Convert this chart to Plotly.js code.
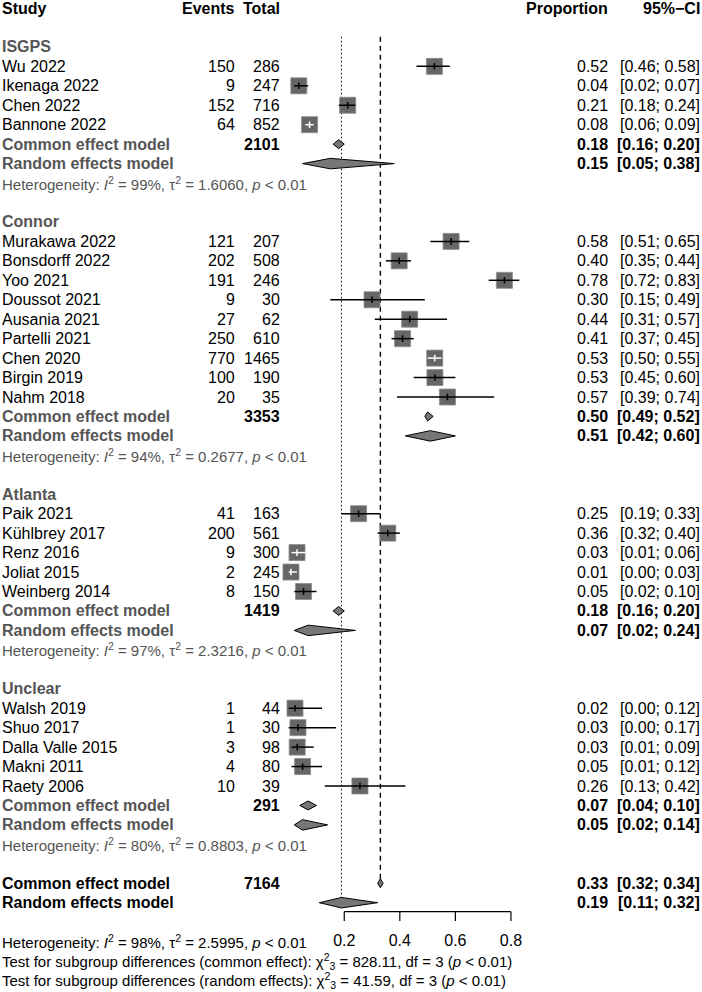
<!DOCTYPE html>
<html>
<head>
<meta charset="utf-8">
<script src="https://cdn.plot.ly/plotly-3.0.1.min.js"></script>
<style>html,body{margin:0;padding:0;background:#fff}</style>
</head>
<body>
<div id="plot" style="width:702px;height:992px"></div>
<script>
// ---- data ----
const groups = ["ISGPS", "Connor", "Atlanta", "Unclear"];
const groupSize = [4, 9, 5, 5];

const studies = ["Wu 2022", "Ikenaga 2022", "Chen 2022", "Bannone 2022",
  "Murakawa 2022", "Bonsdorff 2022", "Yoo 2021", "Doussot 2021", "Ausania 2021",
  "Partelli 2021", "Chen 2020", "Birgin 2019", "Nahm 2018",
  "Paik 2021", "Kühlbrey 2017", "Renz 2016", "Joliat 2015", "Weinberg 2014",
  "Walsh 2019", "Shuo 2017", "Dalla Valle 2015", "Makni 2011", "Raety 2006"];
const events = [150, 9, 152, 64, 121, 202, 191, 9, 27, 250, 770, 100, 20, 41, 200, 9, 2, 8, 1, 1, 3, 4, 10];
const totals = [286, 247, 716, 852, 207, 508, 246, 30, 62, 610, 1465, 190, 35, 163, 561, 300, 245, 150, 44, 30, 98, 80, 39];
const prop = [0.52, 0.04, 0.21, 0.08, 0.58, 0.40, 0.78, 0.30, 0.44, 0.41, 0.53, 0.53, 0.57, 0.25, 0.36, 0.03, 0.01, 0.05, 0.02, 0.03, 0.03, 0.05, 0.26];
const lower = [0.46, 0.02, 0.18, 0.06, 0.51, 0.35, 0.72, 0.15, 0.31, 0.37, 0.50, 0.45, 0.39, 0.19, 0.32, 0.01, 0.00, 0.02, 0.00, 0.00, 0.01, 0.01, 0.13];
const upper = [0.58, 0.07, 0.24, 0.09, 0.65, 0.44, 0.83, 0.49, 0.57, 0.45, 0.55, 0.60, 0.74, 0.33, 0.40, 0.06, 0.03, 0.10, 0.12, 0.17, 0.09, 0.12, 0.42];
// CI drawn in white when it sits inside the square
const ciInside = ["Bannone 2022", "Chen 2020", "Renz 2016", "Joliat 2015"];

const groupTotal = [2101, 3353, 1419, 291];
const commonEst = [0.18, 0.50, 0.18, 0.07];
const commonLow = [0.16, 0.49, 0.16, 0.04];
const commonHigh = [0.20, 0.52, 0.20, 0.10];
const randomEst = [0.15, 0.51, 0.07, 0.05];
const randomLow = [0.05, 0.42, 0.02, 0.02];
const randomHigh = [0.38, 0.60, 0.24, 0.14];
const hetI2 = ["99%", "94%", "97%", "80%"];
const hetTau2 = ["1.6060", "0.2677", "2.3216", "0.8803"];

const overallTotal = 7164;
const overallCommon = [0.33, 0.32, 0.34];
const overallRandom = [0.19, 0.11, 0.32];
const overallI2 = "98%";
const overallTau2 = "2.5995";
const testCommon = "828.11";
const testRandom = "41.59";
const testDf = 3;

const axisTicks = [0.2, 0.4, 0.6, 0.8];

// ---- layout helpers ----
const W = 702, H = 992;
const FONT = "Liberation Sans, Arial, sans-serif";
const GREY = "#555555";
const col = { study: 2, events: 235, total: 280, prop: 608, ci: 700 };

const annotations = [];
function txt(px, row, s, o) {
  o = o || {};
  annotations.push({
    xref: "paper", yref: "y", x: px / W, y: row, text: s,
    showarrow: false, xanchor: o.anchor || "left", yanchor: "middle",
    borderpad: 0, borderwidth: 0,
    font: { family: FONT, size: o.size || 16, color: o.color || "#000" }
  });
}
const f2 = v => v.toFixed(2);
const ciText = (l, u) => "[" + f2(l) + "; " + f2(u) + "]";
const hetText = (i2, t2) => "Heterogeneity: <i>I</i><sup>2</sup> = " + i2 + ", τ<sup>2</sup> = " + t2 + ", <i>p</i> &lt; 0.01";

// header
txt(col.study, 0, "<b>Study</b>");
txt(col.events, 0, "<b>Events</b>", { anchor: "right" });
txt(col.total, 0, "<b>Total</b>", { anchor: "right" });
txt(col.prop, 0, "<b>Proportion</b>", { anchor: "right" });
txt(col.ci, 0, "<b>95%−CI</b>", { anchor: "right" });

const sqX = [], sqY = [];
const blkX = [], blkY = [], whtX = [], whtY = [];
const diaX = [], diaY = [];
function diamond(est, lo, hi, row, h) {
  diaX.push(lo, est, hi, est, lo, null);
  diaY.push(row, row - h, row, row + h, row, null);
}

let row = 2, k = 0;
groups.forEach((g, gi) => {
  txt(col.study, row, "<b>" + g + "</b>", { color: GREY });
  row++;
  for (let j = 0; j < groupSize[gi]; j++, k++, row++) {
    const est = events[k] / totals[k];
    txt(col.study, row, studies[k]);
    txt(col.events, row, String(events[k]), { anchor: "right" });
    txt(col.total, row, String(totals[k]), { anchor: "right" });
    txt(col.prop, row, f2(prop[k]), { anchor: "right" });
    txt(col.ci, row, ciText(lower[k], upper[k]), { anchor: "right" });
    sqX.push(est); sqY.push(row);
    const lx = ciInside.includes(studies[k]) ? whtX : blkX;
    const ly = ciInside.includes(studies[k]) ? whtY : blkY;
    lx.push(lower[k], upper[k], null, est, est, null);
    ly.push(row, row, null, row - 0.17, row + 0.17, null);
  }
  txt(col.study, row, "<b>Common effect model</b>", { color: GREY });
  txt(col.total, row, "<b>" + groupTotal[gi] + "</b>", { anchor: "right" });
  txt(col.prop, row, "<b>" + f2(commonEst[gi]) + "</b>", { anchor: "right" });
  txt(col.ci, row, "<b>" + ciText(commonLow[gi], commonHigh[gi]) + "</b>", { anchor: "right" });
  diamond(commonEst[gi], commonLow[gi], commonHigh[gi], row, 0.23);
  row++;
  txt(col.study, row, "<b>Random effects model</b>", { color: GREY });
  txt(col.prop, row, "<b>" + f2(randomEst[gi]) + "</b>", { anchor: "right" });
  txt(col.ci, row, "<b>" + ciText(randomLow[gi], randomHigh[gi]) + "</b>", { anchor: "right" });
  diamond(randomEst[gi], randomLow[gi], randomHigh[gi], row, 0.27);
  row++;
  txt(col.study, row, hetText(hetI2[gi], hetTau2[gi]), { size: 15, color: GREY });
  row += 2;
});

// overall
const rowCommon = row, rowRandom = row + 1;
txt(col.study, rowCommon, "<b>Common effect model</b>");
txt(col.total, rowCommon, "<b>" + overallTotal + "</b>", { anchor: "right" });
txt(col.prop, rowCommon, "<b>" + f2(overallCommon[0]) + "</b>", { anchor: "right" });
txt(col.ci, rowCommon, "<b>" + ciText(overallCommon[1], overallCommon[2]) + "</b>", { anchor: "right" });
diamond(overallCommon[0], overallCommon[1], overallCommon[2], rowCommon, 0.23);
txt(col.study, rowRandom, "<b>Random effects model</b>");
txt(col.prop, rowRandom, "<b>" + f2(overallRandom[0]) + "</b>", { anchor: "right" });
txt(col.ci, rowRandom, "<b>" + ciText(overallRandom[1], overallRandom[2]) + "</b>", { anchor: "right" });
diamond(overallRandom[0], overallRandom[1], overallRandom[2], rowRandom, 0.27);

const axisRow = rowRandom + 0.46;
const labelRow = rowRandom + 2;
txt(col.study, labelRow, hetText(overallI2, overallTau2), { size: 15 });
txt(col.study, labelRow + 1, "Test for subgroup differences (common effect): χ<sup>2</sup><sub>3</sub> = " + testCommon + ", df = " + testDf + " (<i>p</i> &lt; 0.01)", { size: 15 });
txt(col.study, labelRow + 2, "Test for subgroup differences (random effects): χ<sup>2</sup><sub>3</sub> = " + testRandom + ", df = " + testDf + " (<i>p</i> &lt; 0.01)", { size: 15 });

// axis line and ticks
const axX = [axisTicks[0], axisTicks[axisTicks.length - 1], null];
const axY = [axisRow, axisRow, null];
axisTicks.forEach(t => { axX.push(t, t, null); axY.push(axisRow, axisRow + 0.48, null); });

const traces = [
  { x: [overallCommon[0], overallCommon[0]], y: [1.48, rowCommon - 0.23], mode: "lines",
    line: { color: "#000", width: 1.4, dash: "5px,4px" } },
  { x: [overallRandom[0], overallRandom[0]], y: [1.48, rowRandom], mode: "lines",
    line: { color: "#000", width: 1, dash: "1.5px,2.5px" } },
  { x: sqX, y: sqY, mode: "markers",
    marker: { symbol: "square", size: 16, color: "#666666", line: { color: "#8a8a8a", width: 0.8 } } },
  { x: blkX, y: blkY, mode: "lines", line: { color: "#000", width: 1.5 } },
  { x: whtX, y: whtY, mode: "lines", line: { color: "#fff", width: 1.5 } },
  { x: diaX, y: diaY, mode: "lines", fill: "toself", fillcolor: "#777777",
    line: { color: "#000", width: 1 } },
  { x: axX, y: axY, mode: "lines", line: { color: "#000", width: 1.2 } },
  { x: axisTicks, y: axisTicks.map(() => labelRow), mode: "text",
    text: axisTicks.map(t => t.toFixed(1)), textposition: "middle center",
    textfont: { family: FONT, size: 16, color: "#000" } }
].map(t => Object.assign({ type: "scatter", hoverinfo: "skip", cliponaxis: false }, t));

// pixel -> data mapping: x = 0 at 288.7px, 277.8px per unit; row r at 8 + 19.45 r px
const x0 = 288.7, xs = 277.8, y0 = 8, ys = 19.45;
const layout = {
  width: W, height: H,
  margin: { l: 0, r: 0, t: 0, b: 0, pad: 0 },
  paper_bgcolor: "#fff", plot_bgcolor: "#fff",
  showlegend: false,
  xaxis: { range: [-x0 / xs, (W - x0) / xs], visible: false, fixedrange: true },
  yaxis: { range: [(H - y0) / ys, -y0 / ys], visible: false, fixedrange: true },
  annotations: annotations
};

Plotly.newPlot(document.getElementById("plot"), traces, layout, { displayModeBar: false, staticPlot: true });
</script>
</body>
</html>
